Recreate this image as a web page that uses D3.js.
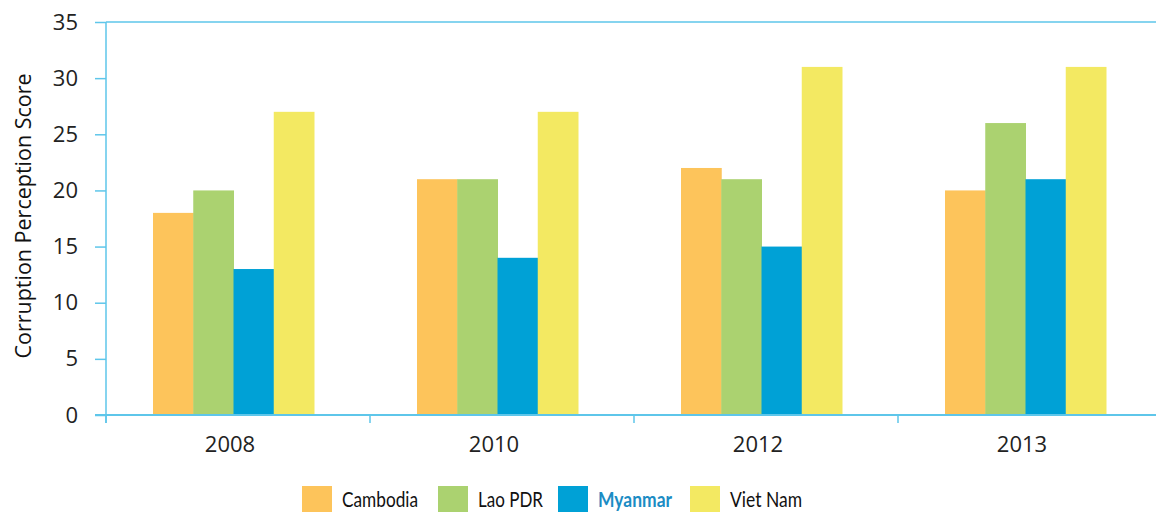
<!DOCTYPE html>
<meta charset="utf-8">
<body style="margin:0;background:#fff">
<svg width="1156" height="512"></svg>
<script src="https://d3js.org/d3.v7.min.js"></script>
<script>
  var years = ['2008', '2010', '2012', '2013']
  var countries = ['Cambodia', 'Lao PDR', 'Myanmar', 'Viet Nam']
  var colors = ['#fdc45b', '#abd270', '#00a1d6', '#f3e962']
  var cambodia = [18, 21, 22, 20]
  var lao = [20, 21, 21, 26]
  var myanmar = [13, 14, 15, 21]
  var vietnam = [27, 27, 31, 31]
  var yTicks = [0, 5, 10, 15, 20, 25, 30, 35]

  var series = [cambodia, lao, myanmar, vietnam]
  var axisColor = '#5ec6ea'

  var svg = d3.select('svg')
  var plotLeft = 106, plotTop = 22, plotBottom = 415, plotRight = 1162

  var x = d3.scaleBand().domain(years).range([plotLeft, plotRight])
  var y = d3.scaleLinear().domain([0, 35]).range([plotBottom, plotTop])
  var inner = d3.scaleBand().domain(countries).range([0, 161])

  // bars
  years.forEach(function(yr, i) {
    var g = svg.append('g')
      .attr('transform', 'translate(' + (x(yr) + x.bandwidth() / 2 - 85) + ',0)')
    g.selectAll('rect')
      .data(countries)
      .enter().append('rect')
      .attr('x', function(c) { return inner(c) })
      .attr('width', inner.bandwidth() + 0.5)
      .attr('y', function(c, k) { return y(series[k][i]) })
      .attr('height', function(c, k) { return plotBottom - y(series[k][i]) })
      .attr('fill', function(c, k) { return colors[k] })
  })

  // y axis
  var yAxis = svg.append('g')
    .attr('transform', 'translate(' + plotLeft + ',0)')
    .call(d3.axisLeft(y).tickValues(yTicks).tickSize(11).tickPadding(17))
  yAxis.select('.domain').attr('stroke', axisColor).attr('stroke-width', 1.5)
    .attr('d', 'M0,' + plotTop + 'V' + (plotBottom + 8))
  yAxis.selectAll('.tick line').attr('stroke', axisColor).attr('stroke-width', 1.5)
  yAxis.selectAll('text').attr('font-family', 'Open Sans').attr('font-size', 22).attr('fill', '#222')

  // top line at 35
  svg.append('line').attr('x1', plotLeft).attr('x2', 1156).attr('y1', y(35)).attr('y2', y(35))
    .attr('stroke', axisColor).attr('stroke-width', 1.5)

  // x axis
  var xAxis = svg.append('g')
    .attr('transform', 'translate(0,' + plotBottom + ')')
    .call(d3.axisBottom(x).tickSize(0).tickPadding(21))
  xAxis.select('.domain').attr('stroke', axisColor).attr('stroke-width', 2)
    .attr('d', 'M' + (plotLeft - 11) + ',0H1156')
  xAxis.selectAll('text').attr('font-family', 'Open Sans').attr('font-size', 22).attr('fill', '#222')
    .attr('dx', -8)
  xAxis.selectAll('.sep')
    .data(years)
    .enter().append('line')
    .attr('x1', function(d) { return x(d) })
    .attr('x2', function(d) { return x(d) })
    .attr('y1', 0).attr('y2', 8)
    .attr('stroke', axisColor).attr('stroke-width', 1.5)

  svg.append('text')
    .attr('transform', 'translate(31,216) rotate(-90)')
    .attr('text-anchor', 'middle')
    .attr('font-family', 'Open Sans').attr('font-size', 21.5).attr('fill', '#111')
    .text('Corruption Perception Score')

  // legend
  var legendX = [302, 438, 558, 690]
  var legendW = [76, 65, 74, 72]
  var legend = svg.selectAll('.leg')
    .data(countries)
    .enter().append('g')
    .attr('transform', function(d, i) { return 'translate(' + legendX[i] + ',486)' })
  legend.append('rect').attr('width', 30).attr('height', 26)
    .attr('fill', function(d, i) { return colors[i] })
  legend.append('text').attr('x', 40).attr('y', 21)
    .attr('font-family', 'Lato').attr('font-size', 21)
    .attr('textLength', function(d, i) { return legendW[i] })
    .attr('lengthAdjust', 'spacingAndGlyphs')
    .attr('font-weight', function(d) { return d === 'Myanmar' ? 'bold' : 'normal' })
    .attr('fill', function(d) { return d === 'Myanmar' ? '#1b8cc4' : '#111' })
    .text(function(d) { return d })
</script>
